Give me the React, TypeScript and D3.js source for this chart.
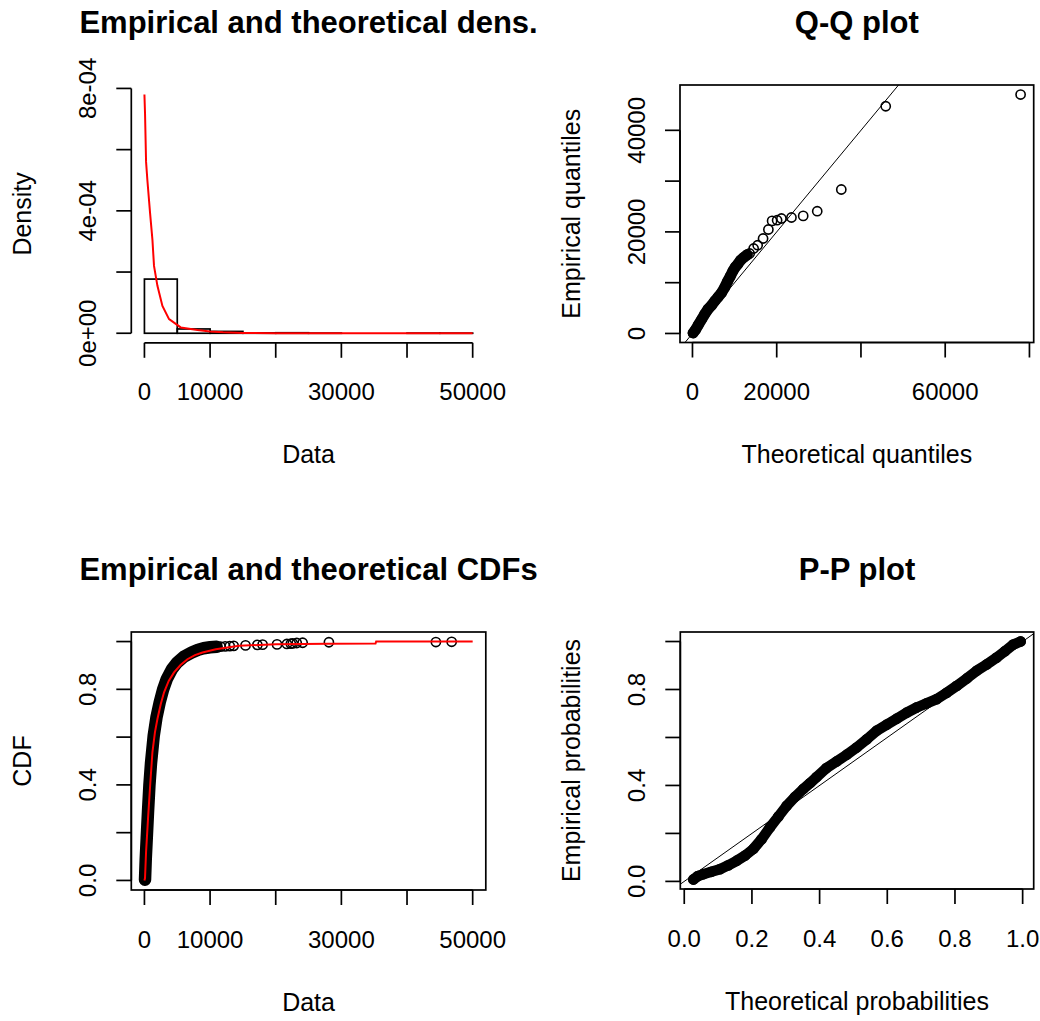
import React from "react";
import * as d3 from "d3";

// ---------- Panel 1: histogram + fitted density ----------
const histBreaks = [0, 5000, 10000, 15000, 20000, 25000, 30000, 35000, 40000, 45000, 50000];
const histDensity = [1.77e-4, 1.4e-5, 6e-6, 1.2e-6, 1.6e-6, 4e-7, 0, 0, 4e-7, 4e-7];
const densFitX = [0, 90, 250, 450, 850, 1220, 1460, 1980, 2740, 3750, 5530, 8080, 10000, 12000, 15000, 20000, 30000, 40000, 50000];
const densFitY = [7.8e-4, 7.2e-4, 5.6e-4, 5.0e-4, 3.95e-4, 3.05e-4, 2.2e-4, 1.55e-4, 8.9e-5, 4.6e-5, 1.9e-5, 1.1e-5, 6e-6, 3e-6, 1e-6, 2e-7, 0, 0, 0];
const densXTicks = [0, 10000, 20000, 30000, 40000, 50000];
const densXLabels = ["0", "10000", "", "30000", "", "50000"];
const densYTicks = [0, 0.0002, 0.0004, 0.0006, 0.0008];
const densYLabels = ["0e+00", "", "4e-04", "", "8e-04"];

// ---------- Panel 2: Q-Q plot ----------
const qqBandTheo = [150, 700, 1400, 2200, 2900, 3700, 4500, 5300, 6100, 6900, 7600, 8300, 9000, 9600, 10200, 10800, 11400, 12200, 13000];
const qqBandEmp = [100, 700, 1700, 2800, 3800, 4800, 5500, 6400, 7200, 8000, 9000, 10200, 11300, 12300, 13100, 13700, 14400, 15000, 15500];
const qqTailTheo = [13571, 14523, 15476, 16762, 18024, 18905, 20095, 21120, 23500, 26286, 29619, 35333, 45881, 77900];
const qqTailEmp = [15748, 16732, 17382, 18700, 20472, 22165, 22303, 22638, 22835, 23150, 24075, 28346, 44744, 47047];
const qqXTicks = [0, 20000, 40000, 60000, 80000];
const qqXLabels = ["0", "20000", "", "60000", ""];
const qqYTicks = [0, 10000, 20000, 30000, 40000];
const qqYLabels = ["0", "", "20000", "", "40000"];

// ---------- Panel 3: empirical and theoretical CDFs ----------
const cdfBandX = [90, 200, 350, 550, 760, 1000, 1420, 1850, 2330, 2850, 3400, 4200, 5000, 6000, 7200, 8200, 9000, 10000, 11000];
const cdfBandY = [0.003, 0.09, 0.176, 0.29, 0.398, 0.49, 0.607, 0.685, 0.746, 0.8, 0.843, 0.885, 0.9125, 0.936, 0.954, 0.966, 0.972, 0.976, 0.978];
const cdfTailX = [11600, 12300, 13000, 13600, 15400, 17200, 18000, 20200, 21700, 22300, 22600, 23200, 24100, 28100, 44400, 46800];
const cdfTailY = [0.979, 0.98, 0.981, 0.982, 0.984, 0.986, 0.987, 0.988, 0.99, 0.991, 0.992, 0.994, 0.995, 0.997, 0.998, 0.999];
const cdfFitX = [0, 90, 250, 550, 900, 1220, 1600, 1980, 2500, 2990, 3700, 4510, 5500, 6550, 7700, 8840, 10870, 14420, 20000, 28000, 35200, 35300, 50000];
const cdfFitY = [0, 0.01, 0.12, 0.26, 0.41, 0.5375, 0.62, 0.676, 0.74, 0.7875, 0.835, 0.871, 0.902, 0.926, 0.943, 0.954, 0.968, 0.982, 0.989, 0.991, 0.992, 1.0, 1.0];
const cdfXTicks = [0, 10000, 20000, 30000, 40000, 50000];
const cdfXLabels = ["0", "10000", "", "30000", "", "50000"];
const cdfYTicks = [0, 0.2, 0.4, 0.6, 0.8, 1.0];
const cdfYLabels = ["0.0", "", "0.4", "", "0.8", ""];

// ---------- Panel 4: P-P plot ----------
const ppTheo = [0.027, 0.04, 0.056, 0.08, 0.1055, 0.13, 0.155, 0.18, 0.204, 0.228, 0.253, 0.278, 0.3026, 0.327, 0.3517, 0.372, 0.391, 0.42, 0.4504, 0.48, 0.5095, 0.54, 0.5686, 0.598, 0.6277, 0.657, 0.6868, 0.716, 0.746, 0.775, 0.805, 0.835, 0.864, 0.894, 0.923, 0.948, 0.972, 0.994];
const ppEmp = [0.008, 0.022, 0.03, 0.04, 0.051, 0.067, 0.086, 0.108, 0.135, 0.175, 0.225, 0.27, 0.315, 0.352, 0.385, 0.41, 0.435, 0.472, 0.5, 0.528, 0.558, 0.593, 0.628, 0.653, 0.678, 0.703, 0.725, 0.742, 0.76, 0.786, 0.815, 0.846, 0.878, 0.905, 0.933, 0.96, 0.987, 1.0];
const ppXTicks = [0, 0.2, 0.4, 0.6, 0.8, 1.0];
const ppXLabels = ["0.0", "0.2", "0.4", "0.6", "0.8", "1.0"];
const ppYTicks = [0, 0.2, 0.4, 0.6, 0.8, 1.0];
const ppYLabels = ["0.0", "", "0.4", "", "0.8", ""];

const titles = ["Empirical and theoretical dens.", "Q-Q plot", "Empirical and theoretical CDFs", "P-P plot"];

const FONT = '"Liberation Sans", Arial, Helvetica, sans-serif';
const R = 4.6;

type Box = { left: number; right: number; top: number; bottom: number };
type Sc = d3.ScaleLinear<number, number>;

function ext(vals: number[]): [number, number] {
  const [lo, hi] = d3.extent(vals) as [number, number];
  const d = (hi - lo) * 0.04;
  return [lo - d, hi + d];
}

const line = d3.line<[number, number]>();

function Panel(props: {
  id: string;
  box: Box;
  xDomain: [number, number];
  yDomain: [number, number];
  xTicks: number[];
  xLabels: string[];
  yTicks: number[];
  yLabels: string[];
  title: string;
  xTitle: string;
  yTitle: string;
  framed: boolean;
  render: (x: Sc, y: Sc) => React.ReactNode;
}) {
  const { id, box, xDomain, yDomain, xTicks, xLabels, yTicks, yLabels, title, xTitle, yTitle, framed, render } = props;
  const x = d3.scaleLinear().domain(xDomain).range([box.left, box.right]);
  const y = d3.scaleLinear().domain(yDomain).range([box.bottom, box.top]);
  const cx = (box.left + box.right) / 2;
  const cy = (box.top + box.bottom) / 2;
  const tick = 15;
  return (
    <g>
      <defs>
        <clipPath id={id}>
          <rect x={box.left} y={box.top} width={box.right - box.left} height={box.bottom - box.top} />
        </clipPath>
      </defs>
      <g clipPath={`url(#${id})`}>{render(x, y)}</g>
      {framed && (
        <rect x={box.left} y={box.top} width={box.right - box.left} height={box.bottom - box.top} fill="none" stroke="#000" strokeWidth={1.7} />
      )}
      {/* x axis */}
      <line x1={x(xTicks[0])} x2={x(xTicks[xTicks.length - 1])} y1={box.bottom} y2={box.bottom} stroke="#000" strokeWidth={1.7} />
      {xTicks.map((t, i) => (
        <g key={"xt" + i}>
          <line x1={x(t)} x2={x(t)} y1={box.bottom} y2={box.bottom + tick} stroke="#000" strokeWidth={1.7} />
          {xLabels[i] && (
            <text x={x(t)} y={box.bottom + 57.5} textAnchor="middle" fontSize={24}>
              {xLabels[i]}
            </text>
          )}
        </g>
      ))}
      {/* y axis */}
      <line x1={box.left} x2={box.left} y1={y(yTicks[0])} y2={y(yTicks[yTicks.length - 1])} stroke="#000" strokeWidth={1.7} />
      {yTicks.map((t, i) => (
        <g key={"yt" + i}>
          <line x1={box.left} x2={box.left - tick} y1={y(t)} y2={y(t)} stroke="#000" strokeWidth={1.7} />
          {yLabels[i] && (
            <text transform={`translate(${box.left - 35.5},${y(t)}) rotate(-90)`} textAnchor="middle" fontSize={24}>
              {yLabels[i]}
            </text>
          )}
        </g>
      ))}
      <text x={cx} y={box.top - 51.7} textAnchor="middle" fontSize={31} fontWeight="bold">
        {title}
      </text>
      <text x={cx} y={box.bottom + 120.5} textAnchor="middle" fontSize={25}>
        {xTitle}
      </text>
      <text transform={`translate(${box.left - 100.5},${cy}) rotate(-90)`} textAnchor="middle" fontSize={25}>
        {yTitle}
      </text>
    </g>
  );
}

function Points({ xs, ys, x, y }: { xs: number[]; ys: number[]; x: Sc; y: Sc }) {
  return (
    <g>
      {xs.map((v, i) => (
        <circle key={i} cx={x(v)} cy={y(ys[i])} r={R} fill="none" stroke="#000" strokeWidth={1.6} />
      ))}
    </g>
  );
}

function Band({ xs, ys, x, y, w }: { xs: number[]; ys: number[]; x: Sc; y: Sc; w: number }) {
  const pts = xs.map((v, i) => [x(v), y(ys[i])] as [number, number]);
  return (
    <g>
      <path d={line(pts) || ""} fill="none" stroke="#000" strokeWidth={w} strokeLinecap="round" strokeLinejoin="round" />
      <Points xs={xs} ys={ys} x={x} y={y} />
    </g>
  );
}

export default function App() {
  const boxDens: Box = { left: 131.3, right: 485.8, top: 85, bottom: 342.8 };
  const boxQQ: Box = { left: 680, right: 1033.7, top: 85, bottom: 342.5 };
  const boxCDF: Box = { left: 131.3, right: 485.8, top: 632, bottom: 890 };
  const boxPP: Box = { left: 680.3, right: 1033.7, top: 632, bottom: 889 };

  const qqAllTheo = [...qqBandTheo, ...qqTailTheo];
  const qqAllEmp = [...qqBandEmp, ...qqTailEmp];

  return (
    <svg width={1040} height={1021} style={{ position: "absolute", left: 0, top: 0 }} fontFamily={FONT}>
      <rect width={1040} height={1021} fill="#fff" />

      <Panel
        id="c1"
        box={boxDens}
        xDomain={ext(histBreaks)}
        yDomain={ext([0, d3.max(densFitY) as number])}
        xTicks={densXTicks}
        xLabels={densXLabels}
        yTicks={densYTicks}
        yLabels={densYLabels}
        title={titles[0]}
        xTitle="Data"
        yTitle="Density"
        framed={false}
        render={(x, y) => (
          <g>
            {histDensity.map((d, i) => (
              <rect
                key={i}
                x={x(histBreaks[i])}
                y={y(d)}
                width={x(histBreaks[i + 1]) - x(histBreaks[i])}
                height={y(0) - y(d)}
                fill="none"
                stroke="#000"
                strokeWidth={1.7}
              />
            ))}
            <path
              d={line(densFitX.map((v, i) => [x(v), y(densFitY[i])] as [number, number])) || ""}
              fill="none"
              stroke="#ff0000"
              strokeWidth={2}
            />
          </g>
        )}
      />

      <Panel
        id="c2"
        box={boxQQ}
        xDomain={ext(qqAllTheo)}
        yDomain={ext(qqAllEmp)}
        xTicks={qqXTicks}
        xLabels={qqXLabels}
        yTicks={qqYTicks}
        yLabels={qqYLabels}
        title={titles[1]}
        xTitle="Theoretical quantiles"
        yTitle="Empirical quantiles"
        framed={true}
        render={(x, y) => {
          const d = x.domain();
          return (
            <g>
              <Band xs={qqBandTheo} ys={qqBandEmp} x={x} y={y} w={11} />
              <Points xs={qqTailTheo} ys={qqTailEmp} x={x} y={y} />
              <line x1={x(d[0])} y1={y(d[0])} x2={x(d[1])} y2={y(d[1])} stroke="#000" strokeWidth={1} />
            </g>
          );
        }}
      />

      <Panel
        id="c3"
        box={boxCDF}
        xDomain={ext(cdfFitX)}
        yDomain={ext(cdfFitY)}
        xTicks={cdfXTicks}
        xLabels={cdfXLabels}
        yTicks={cdfYTicks}
        yLabels={cdfYLabels}
        title={titles[2]}
        xTitle="Data"
        yTitle="CDF"
        framed={true}
        render={(x, y) => (
          <g>
            <Band xs={cdfBandX} ys={cdfBandY} x={x} y={y} w={12.5} />
            <Points xs={cdfTailX} ys={cdfTailY} x={x} y={y} />
            <path
              d={line(cdfFitX.map((v, i) => [x(v), y(cdfFitY[i])] as [number, number])) || ""}
              fill="none"
              stroke="#ff0000"
              strokeWidth={2}
            />
          </g>
        )}
      />

      <Panel
        id="c4"
        box={boxPP}
        xDomain={ext(ppTheo)}
        yDomain={ext(ppEmp)}
        xTicks={ppXTicks}
        xLabels={ppXLabels}
        yTicks={ppYTicks}
        yLabels={ppYLabels}
        title={titles[3]}
        xTitle="Theoretical probabilities"
        yTitle="Empirical probabilities"
        framed={true}
        render={(x, y) => {
          const d = x.domain();
          return (
            <g>
              <Band xs={ppTheo} ys={ppEmp} x={x} y={y} w={10.5} />
              <line x1={x(d[0])} y1={y(d[0])} x2={x(d[1])} y2={y(d[1])} stroke="#000" strokeWidth={1} />
            </g>
          );
        }}
      />
    </svg>
  );
}
